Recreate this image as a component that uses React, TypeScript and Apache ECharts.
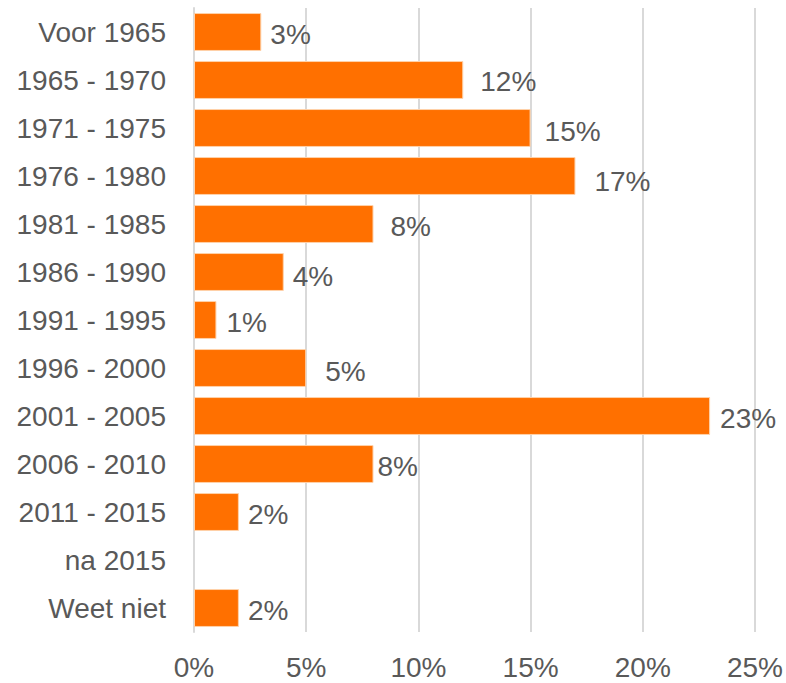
import React, { useEffect, useRef } from "react";
import * as echarts from "echarts";

const categories = [
  "Voor 1965",
  "1965 - 1970",
  "1971 - 1975",
  "1976 - 1980",
  "1981 - 1985",
  "1986 - 1990",
  "1991 - 1995",
  "1996 - 2000",
  "2001 - 2005",
  "2006 - 2010",
  "2011 - 2015",
  "na 2015",
  "Weet niet",
];
const values: (number | null)[] = [3, 12, 15, 17, 8, 4, 1, 5, 23, 8, 2, null, 2];
const xTicks = [0, 5, 10, 15, 20, 25];

// manual data-label nudges (as placed in the original), [dx, dy] in px
const labelNudges: [number, number][] = [
  [0, 2], [8, 1], [5, 3], [10, 5], [8, 2], [0, 4], [1, 2],
  [10, 3], [1, 2], [-5, 2], [0, 2], [0, 0], [0, 2],
];

const FONT = "'Century Gothic', 'Liberation Sans', sans-serif";
const TEXT = "#595959";
const SIZE = 28;

export default function App() {
  const ref = useRef<HTMLDivElement>(null);
  useEffect(() => {
    if (!ref.current) return;
    const chart = echarts.init(ref.current, undefined, { renderer: "svg" });
    chart.setOption({
      animation: false,
      backgroundColor: "#ffffff",
      grid: { left: 194, right: 31, top: 8, bottom: 51, containLabel: false },
      xAxis: {
        type: "value",
        min: xTicks[0],
        max: xTicks[xTicks.length - 1],
        interval: 5,
        axisLine: { show: false },
        axisTick: { show: false },
        splitLine: { show: true, lineStyle: { color: "#d9d9d9", width: 2 } },
        axisLabel: {
          formatter: (v: number) => v + "%",
          color: TEXT,
          fontFamily: FONT,
          fontSize: SIZE,
          margin: 21,
        },
      },
      yAxis: {
        type: "category",
        inverse: true,
        data: categories,
        axisLine: { show: true, lineStyle: { color: "#d9d9d9", width: 2 } },
        axisTick: { show: false },
        axisLabel: {
          color: TEXT,
          fontFamily: FONT,
          fontSize: SIZE,
          margin: 28,
        },
      },
      series: [
        {
          type: "bar",
          data: values.map((v, i) => ({
            value: v,
            label: { offset: labelNudges[i] },
          })),
          barCategoryGap: "21%",
          itemStyle: { color: "#FF7000", borderColor: "#FFD2AA", borderWidth: 1 },
          label: {
            show: true,
            position: "right",
            distance: 9,
            formatter: (p: any) => (p.value == null ? "" : p.value + "%"),
            color: TEXT,
            fontFamily: FONT,
            fontSize: SIZE,
          },
        },
      ],
    });
    return () => chart.dispose();
  }, []);
  return (
    <div
      ref={ref}
      style={{ position: "fixed", left: 0, top: 0, width: 786, height: 683 }}
    />
  );
}
